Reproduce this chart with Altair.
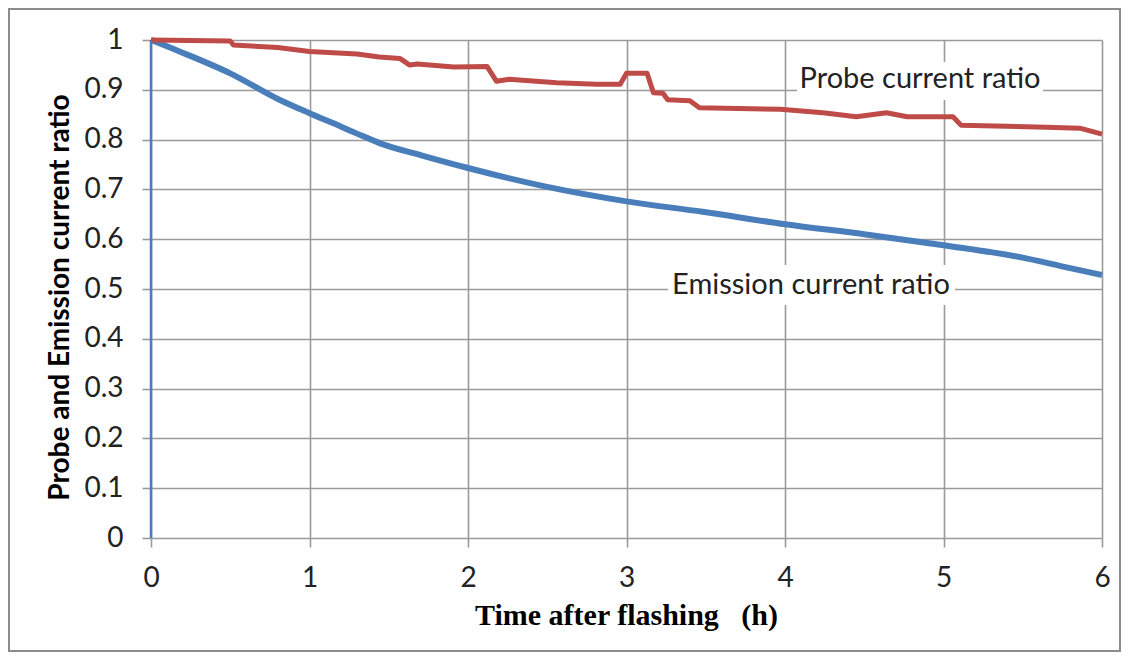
import altair as alt
import pandas as pd

# ---- data ----
probe_t = [0, 0.5, 0.52, 0.8, 1.0, 1.3, 1.44, 1.57, 1.63, 1.68, 1.91, 2.12, 2.18, 2.26, 2.56,
           2.81, 2.96, 3.0, 3.13, 3.17, 3.23, 3.26, 3.4, 3.46, 3.97, 4.24, 4.45, 4.64, 4.77,
           5.06, 5.11, 5.65, 5.86, 6.0]
probe_v = [1.0, 0.998, 0.99, 0.985, 0.977, 0.972, 0.966, 0.963, 0.95, 0.952, 0.946, 0.947,
           0.917, 0.921, 0.914, 0.911, 0.911, 0.933, 0.933, 0.894, 0.893, 0.88, 0.878, 0.864,
           0.861, 0.854, 0.846, 0.854, 0.846, 0.846, 0.829, 0.825, 0.823, 0.811]

rise_t = [0, 0]
rise_v = [0, 1.0]

emis_t = [0, 0.18, 0.5, 0.81, 1.0, 1.2, 1.3, 1.45, 1.7, 2.0, 2.5, 3.0, 3.48, 4.0, 4.5, 5.0,
          5.5, 5.74, 6.0]
emis_v = [1.0, 0.977, 0.933, 0.88, 0.853, 0.826, 0.812, 0.792, 0.769, 0.743, 0.705, 0.676,
          0.655, 0.63, 0.61, 0.588, 0.563, 0.546, 0.528]

label_text = ["Probe current ratio", "Emission current ratio"]
label_t = [4.852, 4.164]
label_v = [0.9217, 0.508]
box_t1 = [4.076, 3.262]
box_t2 = [5.628, 5.073]
box_v1 = [0.956, 0.548]
box_v2 = [0.8795, 0.468]

x_ticks = [0, 1, 2, 3, 4, 5, 6]
y_ticks = [0, 0.1, 0.2, 0.3, 0.4, 0.5, 0.6, 0.7, 0.8, 0.9, 1]

BLUE = "#4a7ebb"
RED = "#be4b48"
GRID = "#9a9a9a"

probe = pd.DataFrame({"t": probe_t, "v": probe_v, "o": range(len(probe_t))})
emis = pd.DataFrame({"t": emis_t, "v": emis_v, "o": range(len(emis_t))})
rise = pd.DataFrame({"t": rise_t, "v": rise_v, "o": range(len(rise_t))})
labels = pd.DataFrame({"text": label_text, "t": label_t, "v": label_v,
                       "t1": box_t1, "t2": box_t2, "v1": box_v1, "v2": box_v2})

xs = alt.Scale(domain=[0, 6], nice=False, zero=False)
ys = alt.Scale(domain=[0, 1], nice=False, zero=False)

x_axis = alt.Axis(values=x_ticks, title="Time after flashing\u00a0\u00a0\u00a0(h)", format="~g",
                  grid=True, gridColor=GRID, gridWidth=1.6, domain=False,
                  tickColor=GRID, tickWidth=1.6, tickSize=9,
                  labelFont="Lato", labelFontSize=28, labelColor="#222222",
                  labelBaseline="middle", labelPadding=31, labelFlush=False,
                  titleFont="Liberation Serif", titleFontSize=30, titleFontWeight="bold",
                  titleColor="#000000", titleX=475, titleY=77, titleBaseline="middle",
                  titleAlign="center")
y_axis = alt.Axis(values=y_ticks, title="Probe and Emission current ratio", format="~g",
                  grid=True, gridColor=GRID, gridWidth=1.6, domain=False,
                  tickColor=GRID, tickWidth=1.6, tickSize=9,
                  labelFont="Lato", labelFontSize=28, labelColor="#222222",
                  labelPadding=19, labelFlush=False,
                  titleFont="Lato", titleFontSize=28, titleFontWeight="bold",
                  titleColor="#000000", titleX=-91, titleY=257, titleAngle=270,
                  titleBaseline="middle", titleAlign="center")

frame = alt.Chart(rise).mark_rect(fill=None, stroke="#8c8c8c", strokeWidth=2).encode(
    x=alt.value(-142), x2=alt.value(969), y=alt.value(-31), y2=alt.value(611))

boxes = alt.Chart(labels).mark_rect(fill="white").encode(
    x=alt.X("t1:Q", scale=xs, axis=x_axis), x2="t2:Q",
    y=alt.Y("v1:Q", scale=ys, axis=y_axis), y2="v2:Q")

rise_line = alt.Chart(rise).mark_line(color=BLUE, strokeWidth=2.5).encode(
    x=alt.X("t:Q", scale=xs), y=alt.Y("v:Q", scale=ys), order="o:Q")

emis_line = alt.Chart(emis).mark_line(color=BLUE, strokeWidth=6, strokeJoin="round",
                                      interpolate="monotone").encode(
    x=alt.X("t:Q", scale=xs), y=alt.Y("v:Q", scale=ys), order="o:Q")

probe_line = alt.Chart(probe).mark_line(color=RED, strokeWidth=5, strokeJoin="round").encode(
    x=alt.X("t:Q", scale=xs), y=alt.Y("v:Q", scale=ys), order="o:Q")

texts = alt.Chart(labels).mark_text(font="Lato", fontSize=29, color="#222222",
                                    align="center", baseline="middle").encode(
    x=alt.X("t:Q", scale=xs), y=alt.Y("v:Q", scale=ys), text="text:N")

chart = alt.layer(boxes, frame, rise_line, emis_line, probe_line, texts).properties(
    width=951, height=498,
    padding={"left": 143, "top": 32, "right": 20, "bottom": 115},
    autosize=alt.AutoSizeParams(type="none"),
    background="white",
).configure_view(stroke=None)

chart.save("out.html", embed_options={"renderer": "svg", "actions": False})
